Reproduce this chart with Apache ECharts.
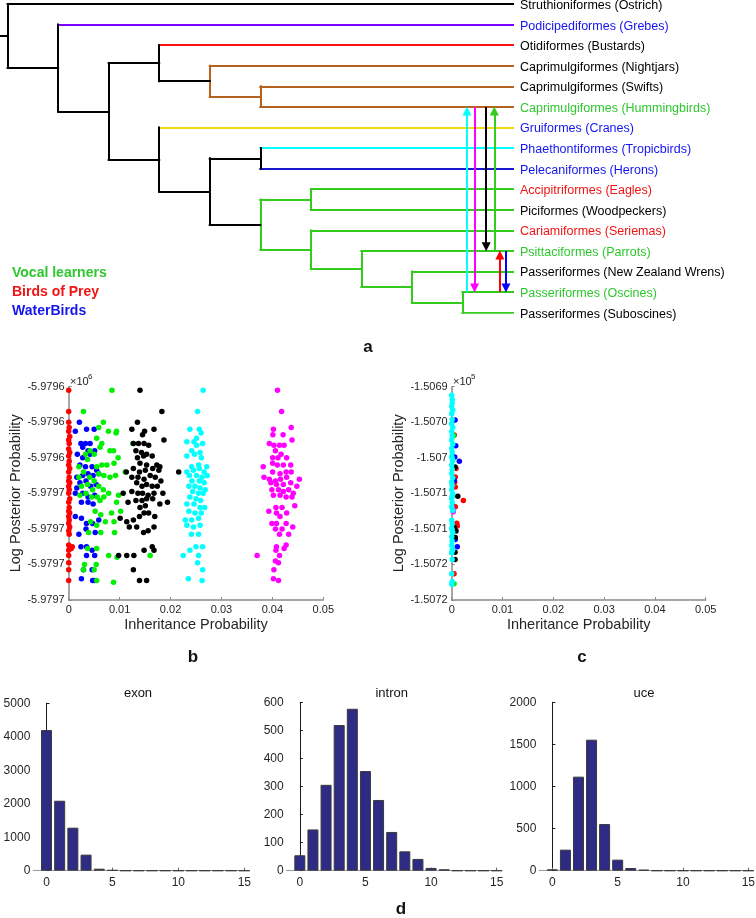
<!DOCTYPE html>
<html><head><meta charset="utf-8">
<script src="https://cdn.jsdelivr.net/npm/echarts@6.0.0/dist/echarts.min.js"></script>
<style>html,body{margin:0;padding:0;background:#fff}#c{width:756px;height:918px}</style>
</head><body><div id="c"></div>
<script>
// ---------------- DATA ----------------
const leafNames = ['Struthioniformes (Ostrich)','Podicipediformes (Grebes)','Otidiformes (Bustards)','Caprimulgiformes (Nightjars)','Caprimulgiformes (Swifts)','Caprimulgiformes (Hummingbirds)','Gruiformes (Cranes)','Phaethontiformes (Tropicbirds)','Pelecaniformes (Herons)','Accipitriformes (Eagles)','Piciformes (Woodpeckers)','Cariamiformes (Seriemas)','Psittaciformes (Parrots)','Passeriformes (New Zealand Wrens)','Passeriformes (Oscines)','Passeriformes (Suboscines)'];
const leafGroup = ['none','water','none','none','none','vocal','water','water','water','prey','none','prey','vocal','none','vocal','none'];
// nested topology of leaf indices
const treeTopology = [0,[1,[[2,[3,[4,5]]],[6,[[7,8],[[9,10],[11,[12,[13,[14,15]]]]]]]]]];
// hybridisation edges: [from leaf, to leaf]
const hybridArrows = [[14,5],[5,14],[5,12],[12,5],[14,12],[12,14]];
const legendItems = ['Vocal learners','Birds of Prey','WaterBirds'];

// panel b: [inheritance probability, log posterior]
const bRed = [[0,-5979602],[0,-5979614],[0,-5979620],[0.0001,-5979623],[0,-5979625],[0.0002,-5979628],[0,-5979630],[0.0001,-5979632],[0,-5979635],[0.0002,-5979637],[0,-5979639],[0.0001,-5979642],[0,-5979644],[0.0002,-5979646],[0,-5979648],[0.0001,-5979651],[0,-5979653],[0.0002,-5979654],[0,-5979656],[0.0001,-5979658],[0,-5979660],[0.0002,-5979663],[0,-5979665],[0.0001,-5979668],[0,-5979670],[0.0002,-5979671],[0,-5979673],[0.0001,-5979675],[0,-5979677],[0.0002,-5979679],[0,-5979681],[0.0001,-5979683],[0,-5979689],[0.0002,-5979690],[0.0007,-5979690],[0.0005,-5979691],[0,-5979692],[0,-5979695],[0,-5979699],[0,-5979703],[0,-5979709]];
const bBlue = [[0.0021,-5979620],[0.0013,-5979625],[0.0035,-5979624],[0.0050,-5979624],[0.0024,-5979632],[0.0033,-5979632],[0.0042,-5979632],[0.00275,-5979634],[0.0038,-5979636],[0.0017,-5979638],[0.00275,-5979640],[0.0042,-5979638],[0.0051,-5979636],[0.0022,-5979644],[0.0033,-5979645],[0.0046,-5979645],[0.0055,-5979647],[0.0016,-5979651],[0.00275,-5979650],[0.0038,-5979649],[0.0048,-5979650],[0.0059,-5979649],[0.0022,-5979654],[0.0034,-5979653],[0.0043,-5979656],[0.0054,-5979655],[0.0013,-5979660],[0.00275,-5979660],[0.0038,-5979662],[0.0051,-5979661],[0.0025,-5979665],[0.0038,-5979665],[0.0048,-5979666],[0.0013,-5979673],[0.0025,-5979674],[0.0035,-5979677],[0.0047,-5979677],[0.0059,-5979675],[0.0034,-5979680],[0.0052,-5979682],[0.0020,-5979683],[0.0024,-5979690],[0.0035,-5979690],[0.0046,-5979692],[0.0035,-5979695],[0.0051,-5979695],[0.0029,-5979703],[0.0046,-5979703],[0.0025,-5979708],[0.0047,-5979709],[0.0051,-5979709],[0.0016,-5979657]];
const bGreen = [[0.0085,-5979602],[0.0029,-5979614],[0.0068,-5979620],[0.0059,-5979623],[0.0078,-5979625],[0.0094,-5979625],[0.0093,-5979626],[0.0055,-5979629],[0.0065,-5979632],[0.0126,-5979632],[0.00615,-5979634],[0.0042,-5979636],[0.0081,-5979636],[0.0088,-5979636],[0.0050,-5979638],[0.0033,-5979638],[0.0037,-5979641],[0.0097,-5979640],[0.0065,-5979644],[0.0075,-5979644],[0.0089,-5979643],[0.0020,-5979645],[0.0055,-5979645],[0.0029,-5979648],[0.0059,-5979649],[0.0111,-5979648],[0.0041,-5979651],[0.0069,-5979650],[0.0081,-5979651],[0.0092,-5979650],[0.0020,-5979651],[0.0050,-5979653],[0.0037,-5979655],[0.0025,-5979656],[0.0059,-5979656],[0.0047,-5979658],[0.0068,-5979658],[0.00785,-5979660],[0.0034,-5979660],[0.0022,-5979661],[0.0098,-5979661],[0.0045,-5979662],[0.0056,-5979662],[0.0069,-5979662],[0.00615,-5979664],[0.0094,-5979665],[0.0052,-5979670],[0.0102,-5979670],[0.0063,-5979672],[0.0084,-5979671],[0.0043,-5979676],[0.0072,-5979676],[0.0089,-5979676],[0.0055,-5979678],[0.0039,-5979682],[0.0063,-5979682],[0.0090,-5979682],[0.0037,-5979691],[0.0055,-5979691],[0.00785,-5979695],[0.0095,-5979696],[0.0160,-5979695],[0.0031,-5979700],[0.0054,-5979700],[0.0029,-5979703],[0.0050,-5979703],[0.0055,-5979709],[0.0088,-5979710]];
const bBlack = [[0.0140,-5979602],[0.0183,-5979614],[0.0135,-5979620],[0.0124,-5979624],[0.0149,-5979625],[0.01675,-5979624],[0.0145,-5979627],[0.0187,-5979630],[0.0127,-5979632],[0.0137,-5979632],[0.0148,-5979632],[0.0157,-5979633],[0.0132,-5979636],[0.0143,-5979637],[0.0153,-5979638],[0.0135,-5979640],[0.0147,-5979639],[0.0164,-5979639],[0.0173,-5979644],[0.0140,-5979643],[0.0153,-5979644],[0.0179,-5979645],[0.0113,-5979648],[0.0127,-5979646],[0.0139,-5979648],[0.01505,-5979647],[0.0165,-5979646],[0.0177,-5979647],[0.0124,-5979651],[0.0136,-5979651],[0.0148,-5979652],[0.0160,-5979650],[0.0170,-5979651],[0.0181,-5979653],[0.01335,-5979654],[0.0144,-5979656],[0.0153,-5979655],[0.0164,-5979656],[0.0174,-5979656],[0.0107,-5979660],[0.0124,-5979659],[0.0136,-5979660],[0.0145,-5979660],[0.0156,-5979661],[0.01675,-5979660],[0.0185,-5979660],[0.01165,-5979665],[0.0132,-5979664],[0.0144,-5979664],[0.0153,-5979663],[0.0165,-5979663],[0.0179,-5979666],[0.0194,-5979665],[0.0140,-5979668],[0.01505,-5979667],[0.0101,-5979674],[0.0114,-5979676],[0.0127,-5979675],[0.0139,-5979673],[0.0148,-5979671],[0.0157,-5979671],[0.0169,-5979673],[0.0119,-5979679],[0.01335,-5979679],[0.0147,-5979682],[0.0156,-5979681],[0.01675,-5979679],[0.0098,-5979695],[0.0114,-5979695],[0.0128,-5979695],[0.0148,-5979692],[0.0164,-5979690],[0.01675,-5979692],[0.0127,-5979703],[0.0139,-5979709],[0.0153,-5979709],[0.0216,-5979648]];
const bCyan = [[0.0264,-5979602],[0.0253,-5979614],[0.0238,-5979624],[0.02565,-5979624],[0.0260,-5979626],[0.0251,-5979629],[0.0232,-5979631],[0.0246,-5979631],[0.0263,-5979632],[0.0251,-5979633],[0.02415,-5979636],[0.0258,-5979637],[0.0232,-5979639],[0.0247,-5979638],[0.02605,-5979640],[0.0271,-5979645],[0.0255,-5979644],[0.02415,-5979645],[0.0232,-5979648],[0.0245,-5979647],[0.02565,-5979646],[0.0266,-5979648],[0.0237,-5979650],[0.0251,-5979650],[0.0262,-5979651],[0.0272,-5979650],[0.0242,-5979653],[0.02565,-5979653],[0.0266,-5979654],[0.0236,-5979656],[0.0248,-5979656],[0.0258,-5979657],[0.0268,-5979658],[0.02435,-5979659],[0.0255,-5979660],[0.0264,-5979660],[0.0238,-5979662],[0.0250,-5979663],[0.0259,-5979664],[0.0232,-5979666],[0.0246,-5979666],[0.0258,-5979668],[0.0267,-5979668],[0.0236,-5979670],[0.0248,-5979671],[0.02605,-5979671],[0.0229,-5979675],[0.02415,-5979675],[0.0255,-5979674],[0.0232,-5979678],[0.0245,-5979679],[0.0258,-5979678],[0.0241,-5979683],[0.0255,-5979683],[0.0263,-5979690],[0.0250,-5979690],[0.0238,-5979692],[0.0225,-5979695],[0.0255,-5979695],[0.0253,-5979699],[0.0263,-5979703],[0.0235,-5979708],[0.0262,-5979709]];
const bMagenta = [[0.0410,-5979602],[0.0418,-5979614],[0.0402,-5979624],[0.0437,-5979623],[0.0401,-5979627],[0.0421,-5979627],[0.0394,-5979632],[0.0403,-5979633],[0.0414,-5979633],[0.0423,-5979633],[0.04385,-5979630],[0.0406,-5979636],[0.0417,-5979638],[0.04005,-5979640],[0.0411,-5979640],[0.0428,-5979640],[0.0382,-5979645],[0.04005,-5979643],[0.04097,-5979644],[0.04215,-5979644],[0.0436,-5979644],[0.03835,-5979651],[0.04005,-5979648],[0.0415,-5979649],[0.0427,-5979648],[0.0437,-5979648],[0.0394,-5979652],[0.0406,-5979653],[0.0416,-5979652],[0.0428,-5979651],[0.0453,-5979652],[0.0397,-5979654],[0.0408,-5979655],[0.04215,-5979655],[0.0436,-5979654],[0.0448,-5979656],[0.0399,-5979658],[0.0412,-5979658],[0.04215,-5979659],[0.0432,-5979658],[0.0441,-5979660],[0.0402,-5979661],[0.0415,-5979661],[0.0427,-5979662],[0.04385,-5979662],[0.0444,-5979667],[0.0393,-5979670],[0.0407,-5979668],[0.0419,-5979668],[0.0408,-5979671],[0.0428,-5979671],[0.0415,-5979673],[0.0399,-5979677],[0.0408,-5979677],[0.0427,-5979677],[0.0440,-5979679],[0.0406,-5979680],[0.0419,-5979680],[0.0432,-5979683],[0.0414,-5979683],[0.0427,-5979689],[0.0408,-5979690],[0.0423,-5979691],[0.0407,-5979692],[0.0370,-5979695],[0.0414,-5979695],[0.0406,-5979698],[0.0412,-5979699],[0.0403,-5979703],[0.0402,-5979708],[0.0412,-5979709]];

// panel c
const cRed = [[0.0005,-150696.8],[0.00085,-150701.5],[0.0007,-150702.7],[0.0007,-150704.1],[0.0023,-150706],[0.0007,-150706.9],[0.001,-150709.2],[0.0011,-150709.6],[0.00046,-150716.3],[0.0006,-150703.4]];
const cGreen = [[0.00046,-150717.7],[0.0004,-150696.9]];
const cBlue = [[0.00066,-150694.7],[0.0008,-150698.3],[0.0015,-150700.5],[0.0006,-150699.9],[0.0007,-150711.5],[0.0011,-150712.5],[0.0005,-150703.2]];
const cBlack = [[0.00066,-150701.3],[0.0012,-150705.4],[0.00085,-150710.3],[0.0007,-150711.2],[0.00066,-150713.3],[0.00066,-150714.3],[0.0005,-150709.8]];
const cMagenta = [[0.0002,-150707.1],[0.0003,-150707.6]];
const cCyan = [[0,-150691.2],[0.0001,-150691.8],[0.0001,-150692.3],[0,-150692.8],[0.0002,-150693.3],[0,-150693.8],[0.0001,-150694.6],[0,-150695.2],[0.0002,-150695.7],[0,-150696.3],[0.0001,-150696.9],[0,-150697.5],[0.0002,-150698.1],[0,-150698.7],[0.0001,-150699.2],[0,-150699.8],[0.0001,-150700.1],[0.0002,-150700.4],[0,-150701],[0.0001,-150701.6],[0,-150702.2],[0.0002,-150702.8],[0,-150703.4],[0.0001,-150703.9],[0,-150704.5],[0.0002,-150705.1],[0.0001,-150705.4],[0,-150705.7],[0.0001,-150706.3],[0,-150706.9],[0.0002,-150707.4],[0,-150708.8],[0.0001,-150709.3],[0,-150709.9],[0.0001,-150710.2],[0.0002,-150710.5],[0,-150711.1],[0.0001,-150711.7],[0,-150712.3],[0.0002,-150712.9],[0.0001,-150713.0],[0,-150713.4],[0.0001,-150714.3],[0,-150716.3],[0.0001,-150717.4],[0,-150717.8]];

const bYTickValues = [-5979720,-5979700,-5979680,-5979660,-5979640,-5979620,-5979600];
const bYTickLabels = ['-5.9797','-5.9797','-5.9797','-5.9797','-5.9796','-5.9796','-5.9796'];
const cYTickValues = [-150720,-150715,-150710,-150705,-150700,-150695,-150690];
const cYTickLabels = ['-1.5072','-1.5072','-1.5071','-1.5071','-1.507','-1.5070','-1.5069'];
const xTickValues = [0,0.01,0.02,0.03,0.04,0.05];
const xTickLabels = ['0','0.01','0.02','0.03','0.04','0.05'];

// panel d histograms
const histBins = [0,1,2,3,4,5,6,7,8,9,10,11,12,13,14,15];
const exonCounts = [4200,2090,1285,480,60,20,0,0,0,0,0,0,0,0,0,0];
const intronCounts = [55,147,306,519,577,355,252,138,69,42,10,5,0,0,0,0];
const uceCounts = [16,250,1117,1556,554,131,32,12,0,0,0,0,0,0,0,0];
const histTitles = ['exon','intron','uce'];
const histTicks = [0,5,10,15];

// ---------------- STYLE ----------------
const FONT = '"Liberation Sans", Arial, Helvetica, sans-serif';
const GREEN = '#33cc1c', BROWN = '#b5621e';
const leafBranchColors = ['#000000','#8000ff','#ff1010',BROWN,BROWN,BROWN,'#f5d810','#00ffff','#1a1acc',GREEN,GREEN,GREEN,GREEN,GREEN,GREEN,GREEN];
const groupColors = {none:'#000000', water:'#1414f0', vocal:'#2ec82e', prey:'#f01414'};
const legendColors = ['#2ec82e','#f01414','#1414f0'];
const arrowColors = ['#00ffff','#ff00ff','#000000',GREEN,'#ff0000','#0000ff'];
const arrowLaneX = [9.09,9.24,9.47,9.63,9.74,9.86];
const TICK = '#262626', AXIS = '#8a8a8a';

// ---------------- TREE LAYOUT ----------------
const segs = [];
function layout(node, depth) {
  if (typeof node === 'number') return {x: 10, y: node, color: leafBranchColors[node], leaf: true};
  const kids = node.map(n => layout(n, depth + 1));
  const y = (kids[0].y + kids[kids.length - 1].y) / 2;
  const color = kids.every(k => k.color === kids[0].color) ? kids[0].color : '#000000';
  kids.forEach(k => segs.push({coords: [[depth, k.y], [k.x, k.y]], lineStyle: {color: k.leaf ? k.color : color}}));
  segs.push({coords: [[depth, kids[0].y], [depth, kids[kids.length - 1].y]], lineStyle: {color}});
  return {x: depth, y, color, leaf: false};
}
const root = layout(treeTopology, 0);
segs.push({coords: [[-0.15, root.y], [0, root.y]], lineStyle: {color: '#000'}});

const headOff = 0.2;
const arrowData = hybridArrows.map((a, i) => {
  const dir = a[1] > a[0] ? 1 : -1;
  return {coords: [[arrowLaneX[i], a[0]], [arrowLaneX[i], a[1] - dir * headOff]], lineStyle: {color: arrowColors[i]}};
});

// ---------------- OPTION ----------------
const grids = [
  {left: 0, top: 4, width: 513, height: 308.7},
  {left: 68.7, top: 386.7, width: 254.6, height: 213.3},
  {left: 451.7, top: 386.7, width: 254, height: 213.3},
  {left: 33.3, top: 703.3, width: 211, height: 167.4},
  {left: 286.7, top: 702.3, width: 210, height: 168.4},
  {left: 539.3, top: 702.3, width: 209, height: 168.4}
].map(g => Object.assign({outerBoundsMode: 'none', containLabel: false}, g));

const richLeaf = {};
Object.keys(groupColors).forEach(k => richLeaf[k] = {color: groupColors[k], fontSize: 12.5, fontFamily: FONT, padding: [3, 0, 0, 0]});

function scatterX(idx) {
  return {gridIndex: idx, type: 'value', min: 0, max: 0.05, interval: 0.01,
    name: 'Inheritance Probability', nameLocation: 'middle', nameGap: 17,
    nameTextStyle: {fontSize: 14.5, color: TICK, fontFamily: FONT},
    axisLine: {lineStyle: {color: AXIS, width: 1.5}},
    axisTick: {inside: true, length: 3, lineStyle: {color: AXIS}},
    splitLine: {show: false},
    axisLabel: {fontSize: 11, color: TICK, fontFamily: FONT, margin: 4,
      formatter: v => { const i = xTickValues.findIndex(t => Math.abs(t - v) < 1e-9); return i >= 0 ? xTickLabels[i] : ''; }}};
}
function scatterY(idx, min, max, interval, vals, labels) {
  return {gridIndex: idx, type: 'value', min, max, interval,
    name: 'Log Posterior Probability', nameLocation: 'middle', nameGap: 44,
    nameTextStyle: {fontSize: 14.5, color: TICK, fontFamily: FONT},
    axisLine: {show: true, lineStyle: {color: AXIS, width: 1.5}},
    axisTick: {show: true, inside: true, length: 3, lineStyle: {color: AXIS}},
    splitLine: {show: false},
    axisLabel: {fontSize: 11, color: TICK, fontFamily: FONT, margin: 4,
      formatter: v => { const i = vals.findIndex(t => Math.abs(t - v) < 1e-6); return i >= 0 ? labels[i] : ''; }}};
}
function histX(idx) {
  return {gridIndex: idx, type: 'value', min: -1, max: 15,
    axisLine: {lineStyle: {color: '#999', width: 1.2}},
    axisTick: {inside: true, length: 3, customValues: histTicks, lineStyle: {color: '#666'}},
    axisLabel: {customValues: histTicks, fontSize: 12, color: TICK, fontFamily: FONT, margin: 6, formatter: v => String(v)},
    splitLine: {show: false}};
}
function histY(idx, max, interval) {
  return {gridIndex: idx, type: 'value', min: 0, max, interval,
    axisLine: {show: true, lineStyle: {color: '#1a1a1a', width: 1}},
    axisTick: {show: true, inside: true, length: 3, lineStyle: {color: '#1a1a1a'}},
    axisLabel: {fontSize: 12, color: TICK, fontFamily: FONT, margin: 3, formatter: v => String(v)},
    splitLine: {show: false}};
}
function sc(data, color, xi) {
  return {type: 'scatter', xAxisIndex: xi, yAxisIndex: xi, data, symbolSize: 5.5, itemStyle: {color, opacity: 1}, silent: true};
}
function hist(counts, xi) {
  return {type: 'bar', xAxisIndex: xi, yAxisIndex: xi, data: histBins.map((b, i) => [b, counts[i]]),
    barWidth: 11, itemStyle: {color: '#2e2b84', borderColor: '#3a3a3a', borderWidth: 1}, silent: true};
}

const graphics = [];
legendItems.forEach((t, i) => graphics.push({type: 'text', x: 12, y: [272.7, 292, 310.7][i],
  style: {text: t, fill: legendColors[i], font: 'bold 14px ' + FONT, textVerticalAlign: 'middle'}}));
[['a', 368, 347], ['b', 193, 657], ['c', 582, 657], ['d', 401, 909]].forEach(p => graphics.push({type: 'text', x: p[1], y: p[2],
  style: {text: p[0], fill: '#111', font: 'bold 17px ' + FONT, textAlign: 'center', textVerticalAlign: 'middle'}}));
[[70, 382, 88, 376.5, '6'], [453, 382, 471, 376.5, '5']].forEach(p => {
  graphics.push({type: 'text', x: p[0], y: p[1], style: {text: '×10', fill: TICK, font: '11px ' + FONT, textVerticalAlign: 'middle'}});
  graphics.push({type: 'text', x: p[2], y: p[3], style: {text: p[4], fill: TICK, font: '8px ' + FONT, textVerticalAlign: 'middle'}});
});
[[138, 693], [391.7, 693], [644, 693]].forEach((p, i) => graphics.push({type: 'text', x: p[0], y: p[1],
  style: {text: histTitles[i], fill: '#111', font: '13px ' + FONT, textAlign: 'center', textVerticalAlign: 'middle'}}));

const option = {
  animation: false,
  backgroundColor: '#ffffff',
  grid: grids,
  xAxis: [
    {gridIndex: 0, type: 'value', min: -0.15, max: 10, show: false},
    scatterX(1), scatterX(2), histX(3), histX(4), histX(5)
  ],
  yAxis: [
    {gridIndex: 0, type: 'value', min: 0, max: 15, interval: 1, inverse: true, position: 'right',
      axisLine: {show: false}, axisTick: {show: false}, splitLine: {show: false},
      axisLabel: {margin: 7, formatter: v => { const i = Math.round(v); return '{' + leafGroup[i] + '|' + leafNames[i] + '}'; }, rich: richLeaf}},
    scatterY(1, -5979720, -5979600, 20, bYTickValues, bYTickLabels),
    scatterY(2, -150720, -150690, 5, cYTickValues, cYTickLabels),
    histY(3, 5000, 1000), histY(4, 600, 100), histY(5, 2000, 500)
  ],
  series: [
    {type: 'lines', coordinateSystem: 'cartesian2d', xAxisIndex: 0, yAxisIndex: 0, polyline: false,
      data: segs, lineStyle: {width: 2, opacity: 1, cap: 'square'}, silent: true, z: 2},
    {type: 'lines', coordinateSystem: 'cartesian2d', xAxisIndex: 0, yAxisIndex: 0, polyline: false,
      data: arrowData, symbol: ['none', 'triangle'], symbolSize: 9, lineStyle: {width: 2, opacity: 1}, silent: true, z: 3},
    sc(bRed, '#ff0000', 1), sc(bBlue, '#0000ff', 1), sc(bGreen, '#00f000', 1), sc(bBlack, '#000000', 1), sc(bCyan, '#00ffff', 1), sc(bMagenta, '#ff00ff', 1),
    sc(cRed, '#ff0000', 2), sc(cGreen, '#00f000', 2), sc(cBlue, '#0000ff', 2), sc(cBlack, '#000000', 2), sc(cMagenta, '#ff00ff', 2), sc(cCyan, '#00ffff', 2),
    hist(exonCounts, 3), hist(intronCounts, 4), hist(uceCounts, 5)
  ],
  graphic: graphics
};
const chart = echarts.init(document.getElementById('c'), null, {renderer: 'canvas', width: 756, height: 918});
chart.setOption(option);
</script></body></html>
